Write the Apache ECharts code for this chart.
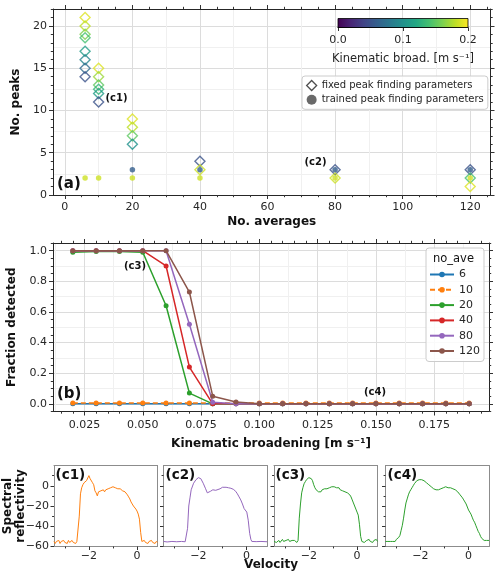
<!DOCTYPE html>
<html><head><meta charset="utf-8">
<script src="https://cdn.jsdelivr.net/npm/echarts@6/dist/echarts.min.js"></script>
<style>html,body{margin:0;padding:0;background:#fff}#c{width:500px;height:577px}</style>
</head><body><div id="c"></div>
<script>
// ---------------- DATA ----------------
// Panel (a): fixed peak finding parameters (hollow diamonds)
const aveFixed   = [6, 6, 6, 6, 6, 6, 6, 6, 10, 10, 10, 10, 10, 10, 20, 20, 20, 20, 40, 40, 80, 80, 120, 120, 120];
const peaksFixed = [21, 20, 19, 18.6, 17, 16, 15, 14, 15, 14, 13, 12.5, 12, 11, 9, 8, 7, 6, 4, 3, 3, 2, 3, 2, 1];
const kbFixed    = [0.19, 0.18, 0.16, 0.14, 0.11, 0.09, 0.07, 0.05, 0.19, 0.17, 0.15, 0.13, 0.11, 0.05, 0.19, 0.18, 0.15, 0.10, 0.05, 0.185, 0.05, 0.185, 0.05, 0.14, 0.19];
// Panel (a): trained peak finding parameters (dots)
const aveTrained   = [6, 10, 20, 20, 40, 40, 80, 80, 120, 120];
const peaksTrained = [2, 2, 2, 3, 2, 3, 2, 3, 2, 3];
const kbTrained    = [0.185, 0.185, 0.185, 0.06, 0.185, 0.06, 0.185, 0.06, 0.185, 0.06];
const legendA = ['fixed peak finding parameters', 'trained peak finding parameters'];
const colorbarTicks = [0, 0.1, 0.2];

// Panel (b): fraction detected vs kinematic broadening
const kbGrid  = [0.02, 0.03, 0.04, 0.05, 0.06, 0.07, 0.08, 0.09, 0.10, 0.11, 0.12, 0.13, 0.14, 0.15, 0.16, 0.17, 0.18, 0.19];
const frac6   = [0, 0, 0, 0, 0, 0, 0, 0, 0, 0, 0, 0, 0, 0, 0, 0, 0, 0];
const frac10  = [0.005, 0.005, 0.005, 0.005, 0.005, 0.005, 0.005, 0.005, 0.005, 0.005, 0.005, 0.005, 0.005, 0.005, 0.005, 0.005, 0.005, 0.005];
const frac20  = [0.99, 0.995, 0.995, 0.99, 0.64, 0.07, 0, 0, 0, 0, 0, 0, 0, 0, 0, 0, 0, 0];
const frac40  = [1, 1, 1, 1, 0.90, 0.24, 0, 0, 0, 0, 0, 0, 0, 0, 0, 0, 0, 0];
const frac80  = [1, 1, 1, 1, 1, 0.52, 0.01, 0, 0, 0, 0, 0, 0, 0, 0, 0, 0, 0];
const frac120 = [1, 1, 1, 1, 1, 0.73, 0.05, 0.012, 0, 0, 0, 0, 0, 0, 0, 0, 0, 0];
const noAveNames = ['6', '10', '20', '40', '80', '120'];

// Tick labels
const ticksAx = [0, 20, 40, 60, 80, 100, 120];
const ticksAy = [0, 5, 10, 15, 20];
const ticksBx = [0.025, 0.05, 0.075, 0.1, 0.125, 0.15, 0.175];
const ticksBy = [0, 0.2, 0.4, 0.6, 0.8, 1.0];
const ticksCx = [-2, 0];
const ticksCy = [-60, -40, -20, 0];

// Panels (c1)-(c4): spectra (velocity, spectral reflectivity)
const c1Vel = [-3.45,-3.40,-3.35,-3.30,-3.25,-3.20,-3.15,-3.10,-3.05,-3.00,-2.95,-2.90,-2.85,-2.80,-2.75,-2.70,-2.65,-2.60,-2.55,-2.50,-2.45,
  -2.40,-2.35,-2.30,-2.25,-2.20,-2.15,-2.10,-2.05,-2.00,-1.95,-1.90,-1.85,-1.80,-1.75,-1.70,-1.65,-1.60,-1.55,-1.50,-1.45,-1.40,-1.35,-1.30,-1.25,-1.20,-1.15,-1.10,-1.05,-1.00,
  -0.95,-0.90,-0.85,-0.80,-0.75,-0.70,-0.65,-0.60,-0.55,-0.50,-0.45,-0.40,-0.35,-0.30,-0.25,-0.20,-0.15,-0.10,-0.05,0.00,0.05,0.10,0.15,0.20,0.25,0.30,0.35,0.40,0.45,0.50,0.55,0.60,0.65,0.70,0.75,0.80,0.85];
const c1Refl = [-55,-57,-55,-56,-54,-57,-55,-56,-54,-56,-55,-57,-54,-56,-55,-54,-56,-55,-57,-55,-56,
  -30,-8,-2,1,3,2,5,6,10,7,8,3,1,-5,-7,-10,-6,-7,-5,-6,-4,-6,-4,-5,-3,-4,-2,-3,-1,
  -2,-2,-1,-3,-2,-3,-3,-5,-4,-6,-7,-9,-11,-13,-16,-18,-20,-21,-23,-25,-28,-33,-46,-55,-56,-54,-56,-55,-57,-55,-56,-54,-56,-55,-57,-55,-56];

const c2Vel  = [-3.45,-3.30,-3.10,-2.90,-2.70,-2.55,-2.50,-2.45,-2.40,-2.35,-2.30,-2.20,-2.10,-2.00,-1.95,-1.90,-1.80,-1.70,-1.63,-1.55,-1.50,-1.40,-1.35,-1.28,-1.20,-1.10,-1.00,-0.93,-0.85,-0.75,-0.65,-0.55,-0.45,-0.38,-0.31,-0.24,-0.17,-0.10,-0.03,0.01,0.07,0.13,0.18,0.22,0.40,0.60,0.85];
const c2Refl = [-55,-55.5,-55,-55.3,-55,-55.3,-55,-42,-20,-12,-4,2.5,6,8,8.2,7,2.5,-3,-7,-6,-5.5,-4,-3.6,-4.5,-5.5,-3,-1.5,-1,-1.5,-2,-2.5,-3.5,-5.5,-8,-11,-14,-18,-22.6,-23,-26,-34,-47,-53,-55,-55.2,-55,-55.3];

const c3Vel = c1Vel;
const c3Refl = [-55,-54,-56,-55,-54,-56,-55,-53,-55,-56,-54,-55,-53,-55,-56,-54,-55,-54,-55,-56,-54,
  -32,-18,-7,-2,2,4,6,7,8,9,7,5,1,-2,-4,-5,-6,-5,-6,-4,-5,-3,-4,-3,-4,-2,-3,-1,-2,
  -1,-2,-2,-3,-2,-4,-4,-5,-4,-6,-6,-7,-8,-9,-11,-14,-17,-20,-23,-26,-29,-38,-50,-55,-54,-56,-55,-54,-55,-53,-55,-54,-56,-54,-55,-53,-55];

const c4Vel = c1Vel;
const c4Refl = [-55,-54,-55,-54,-55,-54,-55,-54,-55,-53,-52,-51,-49,-44,-39,-32,-24,-17,-13,-9,-6,
  -4,-2,0,2,3.5,5,5,6,7,6,6,5,4,3,2,1,0,-1,-2,-3,-3,-4,-5,-4,-3,-3,-2,-2,-1,
  -1,-2,-2,-2,-2,-3,-3,-3,-4,-5,-6,-7,-9,-10,-12,-14,-16,-18,-21,-24,-26,-28,-31,-34,-36,-39,-42,-45,-47,-50,-52,-53,-54,-55,-54,-55,-54];

// ---------------- STYLE / HELPERS ----------------
const FONT = 'DejaVu Sans';
const TXT = '#262626', FRAME = '#262626', TICKC = '#333333', GRIDC = '#dcdcdc', MINORG = '#f0f0f0';
const TAB = ['#1f77b4', '#ff7f0e', '#2ca02c', '#d62728', '#9467bd', '#8c564b'];
const VIR = ['#440154','#482475','#414487','#355f8d','#2a788e','#21918c','#22a884','#44bf70','#7ad151','#bddf26','#fde725'];
function hex(h){return [parseInt(h.slice(1,3),16),parseInt(h.slice(3,5),16),parseInt(h.slice(5,7),16)];}
function viridis(t){
  t = Math.max(0, Math.min(1, t));
  const p = t * 10, i = Math.min(9, Math.floor(p)), f = p - i;
  const a = hex(VIR[i]), b = hex(VIR[i + 1]);
  return 'rgb(' + a.map((v, k) => Math.round(v + (b[k] - v) * f)).join(',') + ')';
}
const KBMAX = 0.2;
function range(a, b, step, dec){ const out=[]; const n=Math.round((b-a)/step); for(let i=0;i<=n;i++) out.push(+(a+i*step).toFixed(dec)); return out; }
function fmtNum(v, d){ const s = Math.abs(v).toFixed(d); return (v < 0 ? '\u2212' : '') + s; }

const xAxes = [], yAxes = [];
function addAxes(g, dim, min, max, o){
  const arr = dim === 'x' ? xAxes : yAxes;
  const pos = dim === 'x' ? ['bottom', 'top'] : ['left', 'right'];
  const base = () => ({type: 'value', gridIndex: g, min: min, max: max, axisPointer: {show: false}});
  const tl = o.tl || 4;
  const mainIdx = arr.length;
  arr.push(Object.assign(base(), {
    position: pos[0],
    axisLine: {show: true, onZero: false, lineStyle: {color: o.frame || FRAME, width: 1}},
    axisTick: {show: true, customValues: o.majors, length: tl, lineStyle: {color: TICKC, width: 1}},
    axisLabel: {show: o.labels !== false, customValues: o.majors, formatter: o.fmt, margin: o.margin || 6,
      fontFamily: FONT, fontSize: o.fs || 11, color: TXT},
    splitLine: {show: !!o.grid, lineStyle: {color: GRIDC, width: 1}},
    name: o.name || '', nameLocation: 'middle', nameGap: o.nameGap || 0, nameRotate: o.nameRotate,
    nameMoveOverlap: o.moveOverlap !== false,
    nameTextStyle: {fontFamily: FONT, fontSize: 12, fontWeight: 'bold', color: '#111', lineHeight: 12.5}
  }));
  if (o.minors) arr.push(Object.assign(base(), {position: pos[0],
    axisLine: {show: false, onZero: false}, axisTick: {show: true, customValues: o.minors, length: tl * 0.55, lineStyle: {color: TICKC}},
    axisLabel: {show: false}, splitLine: {show: false}}));
  if (o.mirror) {
    arr.push(Object.assign(base(), {position: pos[1],
      axisLine: {show: true, onZero: false, lineStyle: {color: o.frame || FRAME, width: 1}},
      axisTick: {show: !!o.mirrorTicks, customValues: o.majors, length: tl, lineStyle: {color: TICKC}},
      axisLabel: {show: false}, splitLine: {show: false}}));
    if (o.mirrorTicks && o.minors) arr.push(Object.assign(base(), {position: pos[1],
      axisLine: {show: false, onZero: false}, axisTick: {show: true, customValues: o.minors, length: tl * 0.55, lineStyle: {color: TICKC}},
      axisLabel: {show: false}, splitLine: {show: false}}));
  }
  if (o.half) arr.push(Object.assign(base(), {position: pos[0],
    axisLine: {show: false, onZero: false}, axisTick: {show: false, customValues: o.half},
    axisLabel: {show: false}, splitLine: {show: true, lineStyle: {color: MINORG, width: 1}}}));
  return mainIdx;
}

// ---------------- GRIDS ----------------
const cLefts = [54, 163.5, 274, 385.5];
const CB = {left: 338, top: 18.5, width: 130, height: 9};
const grids = [
  {left: 53, top: 9, width: 437.5, height: 186},     // (a)
  {left: CB.left, top: CB.top, width: CB.width, height: CB.height}, // colorbar axis
  {left: 53, top: 243, width: 436, height: 168.5},   // (b)
  ...cLefts.map(l => ({left: l, top: 465.5, width: 103.5, height: 81}))
].map(g => Object.assign({outerBoundsMode: 'none', containLabel: false}, g));

// (a)
const ax = addAxes(0, 'x', -3.5, 126, {majors: ticksAx, minors: range(0, 125, 5, 0), half: range(10, 110, 20, 0),
  grid: true, mirror: true, mirrorTicks: true, fmt: v => String(v), margin: 7, name: 'No. averages', nameGap: 21});
const ay = addAxes(0, 'y', 0, 22, {majors: ticksAy, minors: range(0, 22, 1, 0), half: [2.5, 7.5, 12.5, 17.5],
  grid: true, mirror: true, mirrorTicks: true, fmt: v => String(v), margin: 6, name: 'No. peaks', nameGap: 29, nameRotate: 90});
// colorbar
const cbx = addAxes(1, 'x', 0, 0.2, {majors: colorbarTicks, fmt: v => v.toFixed(1), margin: 7, tl: 3.5, frame: '#000',
  name: 'Kinematic broad. [m s\u207B\u00B9]', nameGap: 26});
xAxes[cbx].nameTextStyle = {fontFamily: FONT, fontSize: 11.5, color: TXT};
const cby = yAxes.length; yAxes.push({type: 'value', gridIndex: 1, min: 0, max: 1, show: false});
// (b)
const bx = addAxes(2, 'x', 0.0115, 0.1985, {majors: ticksBx, minors: range(0.015, 0.195, 0.005, 3), half: range(0.0125, 0.1875, 0.025, 4),
  grid: true, mirror: true, mirrorTicks: true, fmt: v => v.toFixed(3), margin: 8, name: 'Kinematic broadening [m s\u207B\u00B9]', nameGap: 26});
const by = addAxes(2, 'y', -0.05, 1.05, {majors: ticksBy, minors: range(-0.05, 1.05, 0.05, 2), half: [0.1, 0.3, 0.5, 0.7, 0.9],
  grid: true, mirror: true, mirrorTicks: true, fmt: v => v.toFixed(1), margin: 6, name: 'Fraction detected', nameGap: 31, nameRotate: 90});
// (c1)-(c4)
const cx = [], cy = [];
for (let k = 0; k < 4; k++) {
  cx.push(addAxes(3 + k, 'x', -3.45, 0.85, {majors: ticksCx, minors: [-3, -1], mirror: true, mirrorTicks: false, frame: '#8c8c8c',
    fmt: v => fmtNum(v, 0), margin: 4, tl: 3.5}));
  cy.push(addAxes(3 + k, 'y', -60, 20, {majors: ticksCy, minors: [-50, -30, -10, 10], mirror: true, mirrorTicks: false, frame: '#8c8c8c',
    labels: k === 0, fmt: v => fmtNum(v, 0), margin: 5, tl: 3.5,
    name: k === 0 ? 'Spectral\nreflectivity' : '', nameGap: 27, nameRotate: 90, moveOverlap: false}));
}

// ---------------- SERIES ----------------
const series = [];
series.push({
  name: legendA[0], type: 'scatter', xAxisIndex: ax, yAxisIndex: ay, symbol: 'diamond', symbolSize: [10, 10], z: 3,
  itemStyle: {color: 'rgba(0,0,0,0)', borderWidth: 1.4},
  data: aveFixed.map((x, i) => ({value: [x, peaksFixed[i]], itemStyle: {borderColor: viridis(kbFixed[i] / KBMAX), color: 'rgba(0,0,0,0)'}}))
});
series.push({
  name: legendA[1], type: 'scatter', xAxisIndex: ax, yAxisIndex: ay, symbol: 'circle', symbolSize: 5.5, z: 4,
  itemStyle: {color: '#444'},
  data: aveTrained.map((x, i) => ({value: [x, peaksTrained[i]], itemStyle: {color: viridis(kbTrained[i] / KBMAX)}}))
});
const fracs = [frac6, frac10, frac20, frac40, frac80, frac120];
fracs.forEach((f, s) => {
  series.push({
    name: noAveNames[s], type: 'line', xAxisIndex: bx, yAxisIndex: by, z: 3 + s,
    symbol: 'circle', symbolSize: 5, showSymbol: true,
    color: TAB[s],
    lineStyle: {width: 1.5, color: TAB[s], type: s === 1 ? [5, 3] : 'solid'},
    itemStyle: {color: TAB[s]},
    data: kbGrid.map((k, i) => [k, f[i]])
  });
});
const specs = [[c1Vel, c1Refl, TAB[1]], [c2Vel, c2Refl, TAB[4]], [c3Vel, c3Refl, TAB[2]], [c4Vel, c4Refl, TAB[2]]];
specs.forEach((sp, k) => {
  series.push({
    name: 'c' + (k + 1), type: 'line', xAxisIndex: cx[k], yAxisIndex: cy[k], showSymbol: false, symbol: 'none',
    lineStyle: {width: 1, color: sp[2]}, itemStyle: {color: sp[2]},
    data: sp[0].map((v, i) => [v, sp[1][i]])
  });
});

// ---------------- TEXTS / COLORBAR ----------------
function txt(x, y, text, font, align) {
  return {type: 'text', x: x, y: y, z: 100, style: {text: text, font: font, fill: '#111', align: align || 'left', verticalAlign: 'middle'}};
}
const boldS = 'bold 10px "DejaVu Sans"';
const graphics = [
  {type: 'rect', z: 90, shape: {x: CB.left, y: CB.top, width: CB.width, height: CB.height},
    style: {fill: {type: 'linear', x: 0, y: 0, x2: 1, y2: 0, colorStops: VIR.map((c, i) => ({offset: i / 10, color: c}))},
      stroke: '#000', lineWidth: 0.8}},
  txt(57, 184, '(a)', 'bold 15px "DejaVu Sans"'),
  txt(57, 394, '(b)', 'bold 15px "DejaVu Sans"'),
  txt(116.5, 98.5, '(c1)', boldS, 'center'),
  txt(315.5, 162.5, '(c2)', boldS, 'center'),
  txt(135, 266.5, '(c3)', boldS, 'center'),
  txt(375, 392.5, '(c4)', boldS, 'center'),
  txt(55.5, 475, '(c1)', 'bold 13.5px "DejaVu Sans"'),
  txt(165.5, 475, '(c2)', 'bold 13.5px "DejaVu Sans"'),
  txt(275.5, 475, '(c3)', 'bold 13.5px "DejaVu Sans"'),
  txt(387.5, 475, '(c4)', 'bold 13.5px "DejaVu Sans"'),
  txt(453.5, 259.5, 'no_ave', '11.5px "DejaVu Sans"', 'center'),
  txt(271, 565, 'Velocity', 'bold 12px "DejaVu Sans"', 'center')
];

const option = {
  animation: false,
  backgroundColor: '#fff',
  textStyle: {fontFamily: FONT},
  grid: grids,
  xAxis: xAxes,
  yAxis: yAxes,
  legend: [
    {left: 302, top: 76, orient: 'vertical', padding: [3, 4, 3, 4], itemGap: 1.3, itemWidth: 10, itemHeight: 10,
      backgroundColor: 'rgba(255,255,255,0.85)', borderColor: '#cccccc', borderWidth: 1, borderRadius: 3, selectedMode: false,
      textStyle: {fontFamily: FONT, fontSize: 10, color: TXT, lineHeight: 13},
      data: [
        {name: legendA[0], icon: 'diamond', itemStyle: {color: 'rgba(0,0,0,0)', borderColor: '#222', borderWidth: 1.3}},
        {name: legendA[1], icon: 'circle', itemStyle: {color: '#444', borderWidth: 0}}
      ]},
    {left: 426, top: 248, orient: 'vertical', padding: [20, 4, 4, 3], itemGap: 2.3, itemWidth: 24, itemHeight: 7,
      backgroundColor: 'rgba(255,255,255,0.85)', borderColor: '#cccccc', borderWidth: 1, borderRadius: 3, selectedMode: false,
      textStyle: {fontFamily: FONT, fontSize: 11, color: TXT, lineHeight: 13},
      data: noAveNames}
  ],
  graphic: {elements: graphics},
  series: series
};
const chart = echarts.init(document.getElementById('c'), null, {renderer: 'canvas'});
chart.setOption(option);
</script>
</body></html>
